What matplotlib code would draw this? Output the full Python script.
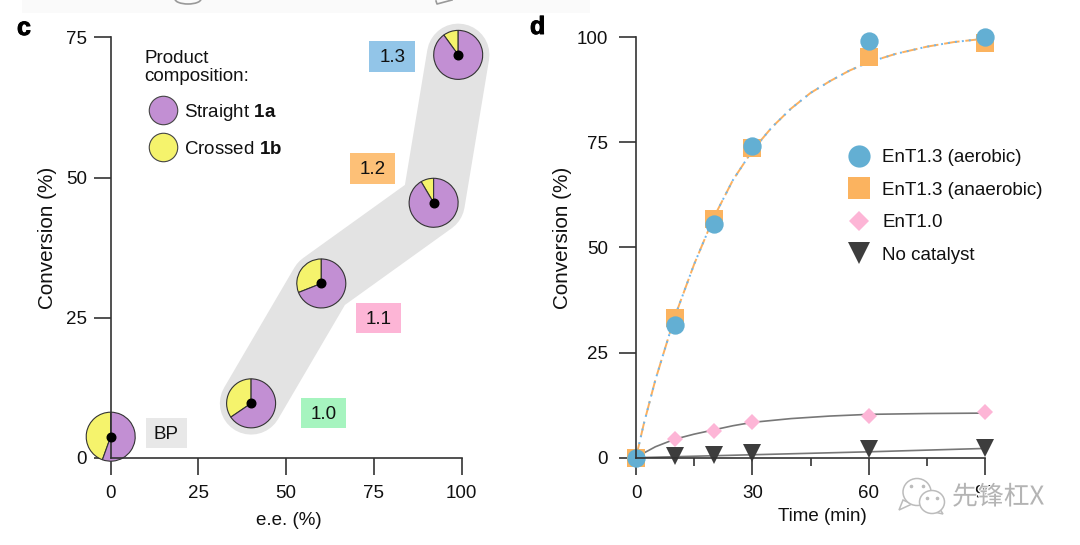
import matplotlib
matplotlib.use('Agg')
import matplotlib.pyplot as plt
from matplotlib.lines import Line2D
from matplotlib.patches import Rectangle, Ellipse, Polygon
import matplotlib.patheffects as pe

plt.rcParams['font.family'] = ['Liberation Sans', 'DejaVu Sans']
plt.rcParams['mathtext.fontset'] = 'custom'
plt.rcParams['mathtext.rm'] = 'Liberation Sans'
plt.rcParams['mathtext.bf'] = 'Liberation Sans:bold'

W, H = 1080, 545
FS = 13.5
DARK = '#333333'
INK = '#111111'
PURPLE = '#c28fd3'
YELLOW = '#f5f36c'

# panel c
ee = [0, 40, 60, 92, 99]
conv = [3.75, 9.7, 31.1, 45.5, 71.9]
crossed = [44.5, 34.5, 31, 8.5, 10]
variants = ['BP', '1.0', '1.1', '1.2', '1.3']
variant_colors = ['#e8e8e8', '#a6f4bf', '#fdb5d6', '#fdc077', '#92c5e8']
c_ticks_x = [0, 25, 50, 75, 100]
c_ticks_y = [0, 25, 50, 75]

# panel d
time_pts = [0, 10, 20, 30, 60, 90]
aerobic = [0, 31.5, 55.5, 74.2, 99, 100]
anaerobic = [0, 33.2, 56.7, 73.5, 95.2, 98.5]
ent10 = [0, 4.4, 6.3, 8.6, 9.9, 10.8]
no_cat = [0, 0.5, 0.6, 1, 2, 2.3]

fit_t = [0, 2, 5, 10, 15, 20, 25, 30, 35, 40, 45, 50, 55, 60, 67, 75, 82, 90]
fit_13 = [0, 8, 18.5, 33.5, 46, 57, 66, 73, 78.5, 83, 86.7, 89.5, 92, 94, 96, 97.7, 98.8, 99.6]
fit10_t = [0, 2, 5, 10, 15, 20, 25, 30, 40, 50, 60, 75, 90]
fit10 = [0, 1.1, 2.6, 4.4, 5.6, 6.6, 7.6, 8.4, 9.3, 9.9, 10.3, 10.5, 10.6]
nocat_t = [0, 30, 60, 90]
nocat_fit = [0, 0.7, 1.4, 2.2]


def fx(px):
    return px / W


def fy(py):
    return 1 - py / H


def style_axes(ax):
    ax.spines['top'].set_visible(False)
    ax.spines['right'].set_visible(False)
    ax.spines['left'].set_linewidth(1.2)
    ax.spines['bottom'].set_linewidth(1.2)
    ax.spines['left'].set_color(DARK)
    ax.spines['bottom'].set_color(DARK)
    ax.tick_params(length=12, width=1.2, color=DARK, labelsize=FS, labelcolor=INK)
    ax.tick_params(axis='x', pad=8)
    ax.tick_params(axis='y', pad=5)


fig = plt.figure(figsize=(W / 100, H / 100), dpi=100)

# faint leftover of the figure above
fig.add_artist(Rectangle((fx(22), fy(13)), fx(568), 13 / H, transform=fig.transFigure,
                         fc='#fafafa', ec='none', zorder=-1))
fig.add_artist(Ellipse((fx(188), fy(-1)), 26 / W, 10 / H, transform=fig.transFigure,
                       fc='none', ec='#999999', lw=1.2, zorder=-1))
fig.add_artist(Line2D([fx(436), fx(437), fx(452)], [fy(1), fy(4), fy(0)],
                      transform=fig.transFigure, color='#999999', lw=1.2, zorder=-1))

ax = fig.add_axes([fx(110.7), fy(457.7), 351 / W, 420.2 / H])
style_axes(ax)
ax.set_xlim(0, 100)
ax.set_ylim(0, 75)
ax.set_xticks(c_ticks_x)
ax.set_yticks(c_ticks_y)
ax.plot(ee[1:], conv[1:], color='#e3e3e3', lw=45, solid_capstyle='round',
        solid_joinstyle='round', zorder=1, clip_on=False)

rx, ry = 25 / 3.51, 25 / 5.6
for x, y, c in zip(ee, conv, crossed):
    inset = ax.inset_axes([x - rx, y - ry, 2 * rx, 2 * ry], transform=ax.transData, zorder=2)
    inset.pie([c, 100 - c], colors=[YELLOW, PURPLE], startangle=90, radius=0.98,
              wedgeprops=dict(edgecolor=DARK, linewidth=0.8))
    inset.set_xlim(-1, 1)
    inset.set_ylim(-1, 1)
    for w in inset.patches:
        w.set_clip_on(False)
ax.plot(ee, conv, 'o', color='black', ms=6.2, ls='none', zorder=6, clip_on=False)

ax.set_xlabel('e.e. (%)', fontsize=FS, color=INK)
ax.xaxis.set_label_coords(fx(289), fy(512), transform=fig.transFigure)
ax.set_ylabel('Conversion (%)', fontsize=14.9, color=INK)
ax.yaxis.set_label_coords(fx(57), fy(238), transform=fig.transFigure)

# variant boxes
box_x = [145.7, 301, 355.7, 350, 369.3]
box_y = [418, 398, 303, 153.3, 41.3]
box_w = [41.3, 45, 45, 45, 45.7]
for name, col, bx_, by, bw in zip(variants, variant_colors, box_x, box_y, box_w):
    fig.add_artist(Rectangle((fx(bx_), fy(by + 30.4)), bw / W, 30.4 / H,
                             transform=fig.transFigure, fc=col, ec='none'))
    fig.text(fx(bx_ + bw / 2), fy(by + 16.5), name, fontsize=FS, color=INK,
             ha='center', va='center')

fig.text(fx(144.5), fy(67.5), 'Product\ncomposition:', fontsize=FS, color=INK,
         ha='left', va='center', linespacing=1.15)
handles_c = [
    Line2D([], [], ls='none', marker='o', ms=20.5, mfc=PURPLE, mec='#444444', mew=0.8),
    Line2D([], [], ls='none', marker='o', ms=20.5, mfc=YELLOW, mec='#444444', mew=0.8),
]
leg_c = ax.legend(handles_c, ['Straight $\\mathbf{1a}$', 'Crossed $\\mathbf{1b}$'],
                  frameon=False, fontsize=FS, loc='upper left',
                  bbox_to_anchor=(fx(125), fy(85)), bbox_transform=fig.transFigure,
                  labelspacing=0.95, handlelength=2.2, handletextpad=0.05, borderpad=0.4,
                  labelcolor=INK)
leg_c.set_zorder(7)

# panel d
bx = fig.add_axes([fx(636), fy(457.7), 349 / W, 420.7 / H])
style_axes(bx)
bx.set_xlim(0, 90)
bx.set_ylim(0, 100)
bx.set_xticks([0, 30, 60, 90])
bx.set_xticks([15, 45, 75], minor=True)
bx.set_yticks([0, 25, 50, 75, 100])
bx.tick_params(axis='y', pad=8)
bx.tick_params(which='minor', length=6, width=1.2, color=DARK)

bx.plot(fit10_t, fit10, color='#777777', lw=1.2, zorder=1.2)
bx.plot(nocat_t, nocat_fit, color='#777777', lw=1.2, zorder=1.2)
bx.plot(fit_t, fit_13, color='#fbb05f', lw=1.4, ls=(0, (8, 3)), zorder=1.3)
bx.plot(fit_t, fit_13, color='#6cb6f0', lw=1.4, ls=(0, (1, 2.6)), zorder=1.4)

bx.plot(time_pts[1:], no_cat[1:], 'v', color='#3d3d3d', ms=12.5, mew=0, clip_on=False, zorder=2)
bx.plot(time_pts[1:], ent10[1:], 'D', color='#fdb5d6', ms=8.2, mew=0, clip_on=False, zorder=2.1)
bx.plot(time_pts, anaerobic, 's', color='#fbb35f', ms=13.4, mew=0, clip_on=False, zorder=2.2)
bx.plot(time_pts, aerobic, 'o', color='#63afd3', ms=13.2, mew=0, clip_on=False, zorder=2.3)

bx.set_xlabel('Time (min)', fontsize=FS, color=INK)
bx.xaxis.set_label_coords(fx(822), fy(508), transform=fig.transFigure)
bx.set_ylabel('Conversion (%)', fontsize=14.9, color=INK)
bx.yaxis.set_label_coords(fx(572.5), fy(238), transform=fig.transFigure)

handles_d = [
    Line2D([], [], ls='none', marker='o', ms=16, color='#63afd3', mew=0),
    Line2D([], [], ls='none', marker='s', ms=16, color='#fbb35f', mew=0),
    Line2D([], [], ls='none', marker='D', ms=10.6, color='#fdb5d6', mew=0),
    Line2D([], [], ls='none', marker='v', ms=16, color='#3d3d3d', mew=0),
]
bx.legend(handles_d, ['EnT1.3 (aerobic)', 'EnT1.3 (anaerobic)', 'EnT1.0', 'No catalyst'],
          frameon=False, fontsize=FS, loc='upper left',
          bbox_to_anchor=(fx(830), fy(134)), bbox_transform=fig.transFigure,
          labelspacing=0.82, handlelength=1.5, handletextpad=0.5, borderpad=0.3,
          labelcolor=INK)

heavy = [pe.withStroke(linewidth=0.7, foreground='black')]
fig.text(fx(17), fy(28), 'c', fontsize=18, fontweight='bold', color='black', va='center',
         path_effects=heavy)
fig.text(fx(530), fy(27), 'd', fontsize=18, fontweight='bold', color='black', va='center',
         path_effects=heavy)

# watermark
mark = dict(fc='white', ec='#bcbcbc', lw=1.1, transform=fig.transFigure, zorder=9)
fig.add_artist(Polygon([[fx(903), fy(500)], [fx(899), fy(510)], [fx(912), fy(504)]], **mark))
fig.add_artist(Ellipse((fx(917), fy(492)), 28 / W, 27 / H, **mark))
fig.add_artist(Polygon([[fx(938), fy(506)], [fx(943), fy(514)], [fx(930), fy(511)]], **mark))
fig.add_artist(Ellipse((fx(932), fy(502)), 25 / W, 23 / H, **mark))
for ex, ey in [(911, 486), (923, 486), (927, 498), (937, 498)]:
    fig.add_artist(Line2D([fx(ex)], [fy(ey)], marker='o', ms=1.6, color='#bcbcbc', ls='none',
                          transform=fig.transFigure, zorder=10))
wm = fig.text(fx(952), fy(497), '先锋杠X', fontsize=18.6, color='#b4b4b4', va='center', zorder=10,
              family=['Noto Sans CJK SC', 'DejaVu Sans'])
wm.set_path_effects([pe.Stroke(linewidth=1.5, foreground='white'), pe.Normal()])

fig.savefig('out.png', dpi=100)
